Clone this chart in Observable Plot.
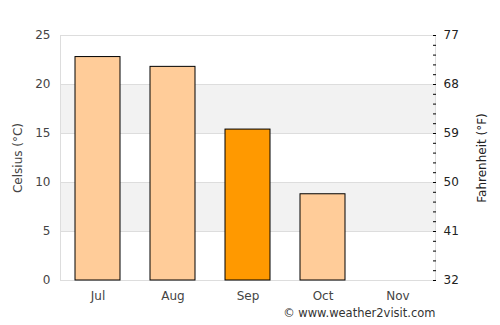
<!DOCTYPE html>
<html>
<head>
<meta charset="utf-8">
<script src="https://cdn.jsdelivr.net/npm/d3@7"></script>
<script src="https://cdn.jsdelivr.net/npm/@observablehq/plot@0.6"></script>
<style>
  body { margin: 0; background: #fff; }
  #chart svg { font-family: "DejaVu Sans", sans-serif; }
</style>
</head>
<body>
<div id="chart"></div>
<script>
const months = ["Jul", "Aug", "Sep", "Oct", "Nov"];
const celsius = [22.8, 21.8, 15.4, 8.8, null];
const currentMonth = "Sep";
const yTicks = [0, 5, 10, 15, 20, 25];
const bandRanges = [[5, 10], [15, 20]];
const credit = "© www.weather2visit.com";
const leftLabel = "Celsius (°C)";
const rightLabel = "Fahrenheit (°F)";

const data = months.map((m, i) => ({month: m, value: celsius[i]})).filter(d => d.value != null);
const bands = bandRanges.map(([a, b]) => ({y1: a, y2: b}));

const chart = Plot.plot({
  width: 500,
  height: 325,
  marginLeft: 60,
  marginRight: 65,
  marginTop: 35,
  marginBottom: 45,
  style: {fontFamily: "DejaVu Sans, sans-serif", fontSize: "11px", color: "#444", background: "#fff"},
  x: {domain: months, paddingInner: 0.4, paddingOuter: 0.2},
  y: {domain: [0, 25]},
  marks: [
    Plot.rect(bands, {y1: "y1", y2: "y2", fill: "#f2f2f2"}),
    Plot.ruleY(yTicks, {stroke: "#dddddd"}),
    Plot.frame({stroke: "#dddddd"}),
    Plot.barY(data, {
      x: "month", y: "value",
      fill: d => d.month === currentMonth ? "#ff9900" : "#ffcc99",
      stroke: "#000", strokeWidth: 1
    }),
    Plot.axisX({tickSize: 0, tickPadding: 11, fontSize: 12, color: "#444", label: null}),
    Plot.axisY({anchor: "left", ticks: yTicks, tickSize: 0, tickPadding: 10, fontSize: 12,
      label: null, color: "#444"}),
    Plot.axisY({anchor: "right", ticks: d3.range(0, 26), tickSize: -3, stroke: "#000", tickFormat: () => "", label: null}),
    Plot.axisY({anchor: "right", ticks: yTicks, tickSize: 0, tickPadding: 8, fontSize: 12, color: "#222",
      tickFormat: d => Math.round(d * 9 / 5 + 32), label: null}),
    Plot.text([leftLabel], {frameAnchor: "left", dx: -42, rotate: -90, textAnchor: "middle", text: d => d, fontSize: 12, fill: "#444"}),
    Plot.text([rightLabel], {frameAnchor: "right", dx: 47, rotate: -90, textAnchor: "middle", text: d => d, fontSize: 12, fill: "#222"}),
    Plot.text([credit], {frameAnchor: "bottom-right", dy: 36, text: d => d, fontSize: 11.5, fill: "#333"})
  ]
});
document.getElementById("chart").appendChild(chart);
</script>
</body>
</html>
